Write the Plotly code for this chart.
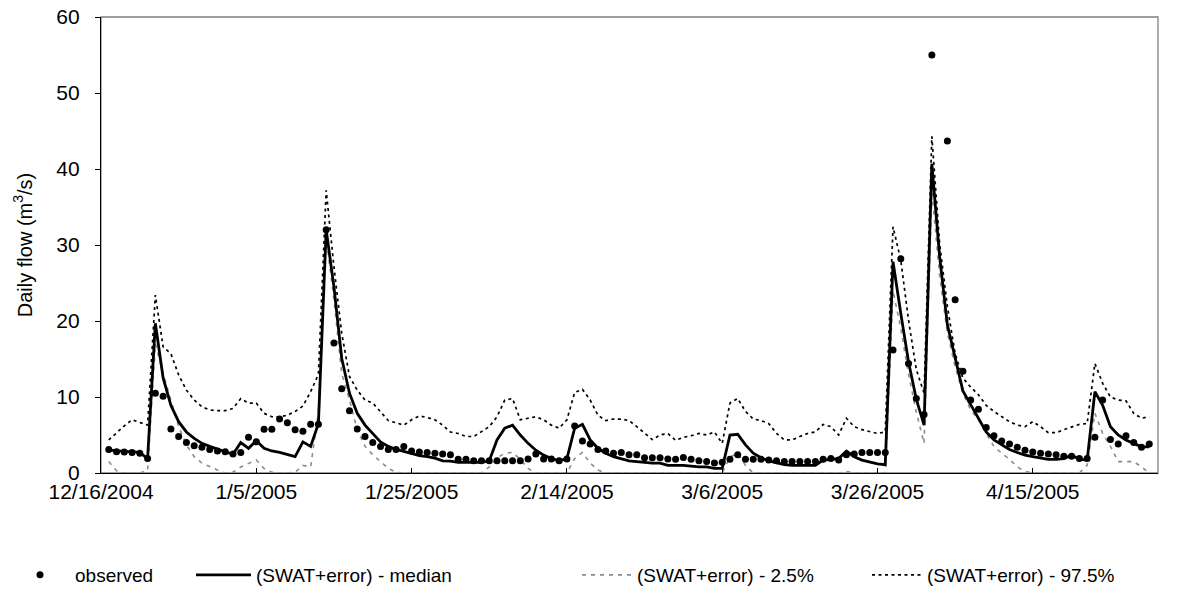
import pandas as pd
import plotly.graph_objects as go

# Daily series, 12/17/2004 .. 4/30/2005 (135 days)
dates = pd.date_range("2004-12-17", periods=135, freq="D")

observed = [
    3.1, 2.8, 2.75, 2.7, 2.6, 1.9, 10.5, 10.1, 5.8, 4.8,
    4.0, 3.6, 3.4, 3.1, 2.9, 2.8, 2.5, 2.7, 4.7, 4.1,
    5.75, 5.75, 7.1, 6.6, 5.7, 5.5, 6.4, 6.4, 32.0, 17.1,
    11.1, 8.2, 5.8, 4.8, 4.0, 3.5, 3.1, 3.1, 3.5, 2.9,
    2.75, 2.7, 2.6, 2.5, 2.4, 1.8, 1.8, 1.6, 1.6, 1.6,
    1.6, 1.6, 1.6, 1.6, 1.85, 2.5, 1.85, 1.85, 1.6, 1.85,
    6.2, 4.2, 3.8, 3.1, 2.9, 2.6, 2.7, 2.4, 2.4, 2.0,
    2.0, 2.0, 1.85, 1.8, 2.05, 1.8, 1.6, 1.5, 1.3, 1.4,
    1.8, 2.4, 1.8, 1.8, 1.8, 1.7, 1.6, 1.5, 1.5, 1.5,
    1.5, 1.5, 1.8, 1.9, 1.7, 2.4, 2.5, 2.7, 2.7, 2.7,
    2.7, 16.2, 28.2, 14.4, 9.8, 7.7, 55.0, None, 43.7, 22.8,
    13.4, 9.6, 8.4, 6.0, 4.9, 4.2, 3.8, 3.4, 3.0, 2.75,
    2.6, 2.5, 2.4, 2.2, 2.2, 1.9, 1.9, 4.7, 9.6, 4.4,
    3.8, 4.9, 4.0, 3.4, 3.8,
]

median = [
    3.0, 2.9, 2.85, 2.8, 2.7, 1.9, 19.7, 12.5, 8.9, 6.75,
    5.4, 4.55, 3.9, 3.5, 3.1, 2.8, 2.45, 4.0, 3.25, 4.25,
    3.25, 2.9, 2.7, 2.4, 2.15, 4.1, 3.5, 6.5, 32.0, 24.5,
    15.1, 10.5, 7.85, 6.3, 5.2, 4.1, 3.5, 3.1, 2.85, 2.55,
    2.3, 2.15, 1.95, 1.6, 1.55, 1.4, 1.4, 1.4, 1.4, 1.6,
    4.35, 5.9, 6.3, 5.0, 3.9, 3.0, 2.35, 1.9, 1.6, 1.9,
    5.9, 6.4, 4.35, 3.25, 2.6, 2.15, 1.9, 1.6, 1.5, 1.4,
    1.3, 1.3, 1.0, 1.0, 1.0, 0.9, 0.8, 0.8, 0.6, 0.6,
    5.0, 5.1, 3.7, 2.6, 2.0, 1.6, 1.35, 1.1, 1.0, 1.0,
    1.0, 1.0, 1.7, 1.8, 1.9, 2.9, 2.15, 1.7, 1.4, 1.2,
    1.1, 27.8, 21.0, 14.6, 9.7, 6.3, 40.7, 28.5, 19.5, 15.0,
    10.8, 9.0, 7.2, 5.4, 4.35, 3.7, 3.1, 2.7, 2.35, 2.15,
    1.95, 1.8, 1.8, 1.9, 2.35, 1.8, 1.7, 10.7, 8.9, 6.1,
    5.0, 4.35, 3.9, 3.45, 3.45,
]

lower_2_5 = [
    1.5, 0.3, 0.0, 0.0, 0.0, 0.3, 17.0, 13.1, 9.6, 6.1,
    3.7, 2.15, 1.3, 0.8, 0.4, 0.0, 0.1, 0.8, 1.3, 1.7,
    0.6, 0.1, 0.0, 0.0, 0.1, 1.0, 0.8, 8.0, 31.0, 22.8,
    13.1, 9.6, 5.7, 3.5, 2.4, 1.5, 0.6, 0.1, 0.0, 0.0,
    0.0, 0.0, 0.0, 0.0, 0.0, 0.0, 0.0, 0.0, 0.0, 0.8,
    2.0, 2.6, 2.7, 1.8, 0.6, 0.0, 0.0, 0.0, 0.0, 0.0,
    1.9, 2.7, 1.3, 0.4, 0.0, 0.0, 0.0, 0.0, 0.0, 0.0,
    0.0, 0.0, 0.0, 0.0, 0.0, 0.0, 0.0, 0.0, 0.0, 0.0,
    2.1, 2.6, 1.0, 0.0, 0.0, 0.0, 0.0, 0.0, 0.0, 0.0,
    0.0, 0.0, 0.0, 0.0, 0.0, 0.2, 0.0, 0.0, 0.0, 0.0,
    0.0, 24.0, 19.0, 13.0, 8.0, 3.9, 37.0, 26.0, 18.4, 14.0,
    10.5, 8.3, 7.0, 5.2, 3.5, 2.6, 1.8, 0.8, 0.2, 0.0,
    0.0, 0.0, 0.0, 0.0, 0.0, 0.0, 1.0, 7.85, 5.2, 3.5,
    1.5, 1.5, 1.5, 0.8, 0.0,
]

upper_97_5 = [
    4.35, 5.3, 6.2, 7.0, 6.6, 6.3, 23.4, 16.6, 15.7, 12.9,
    10.9, 9.6, 8.7, 8.3, 8.2, 8.2, 8.5, 9.8, 9.2, 9.2,
    7.85, 7.4, 7.4, 7.6, 8.1, 8.8, 10.7, 13.0, 37.2, 27.1,
    18.4, 12.7, 10.9, 9.6, 9.2, 8.1, 6.9, 6.6, 6.3, 7.0,
    7.5, 7.3, 7.0, 6.3, 5.4, 5.2, 4.8, 4.8, 5.4, 6.1,
    7.4, 9.6, 9.8, 7.0, 7.2, 7.4, 7.0, 6.3, 5.9, 7.0,
    10.6, 11.0, 9.6, 7.6, 6.9, 7.1, 7.1, 6.9, 6.1, 5.2,
    4.4, 5.0, 5.2, 4.3, 4.7, 4.9, 5.2, 5.0, 5.4, 3.9,
    9.2, 9.8, 8.1, 7.1, 6.9, 6.5, 5.2, 4.35, 4.35, 4.8,
    5.2, 5.4, 6.4, 6.1, 5.0, 7.2, 6.1, 5.7, 5.4, 5.2,
    5.4, 32.4, 28.0, 20.1, 13.6, 10.5, 44.3, 30.2, 21.9, 15.7,
    12.5, 11.3, 10.3, 8.9, 8.1, 7.4, 6.75, 6.3, 6.1, 6.75,
    6.1, 5.3, 5.3, 5.7, 6.1, 6.4, 6.5, 14.4, 11.8, 10.0,
    9.6, 9.5, 7.85, 7.2, 7.4,
]

tick_dates = ["2004-12-16", "2005-01-05", "2005-01-25", "2005-02-14",
              "2005-03-06", "2005-03-26", "2005-04-15"]
tick_labels = ["12/16/2004", "1/5/2005", "1/25/2005", "2/14/2005",
               "3/6/2005", "3/26/2005", "4/15/2005"]

FONT = "Liberation Sans, Arial, sans-serif"
W, H = 1196, 609

fig = go.Figure()

fig.add_trace(go.Scatter(
    x=dates, y=lower_2_5, mode="lines", name="(SWAT+error) - 2.5%",
    line=dict(color="#8c8c8c", width=1.6, dash="4px,5px"),
    legend="legend3",
))
fig.add_trace(go.Scatter(
    x=dates, y=upper_97_5, mode="lines", name="(SWAT+error) - 97.5%",
    line=dict(color="black", width=1.7, dash="3px,3.5px"),
    legend="legend4",
))
fig.add_trace(go.Scatter(
    x=dates, y=median, mode="lines", name="(SWAT+error) - median",
    line=dict(color="black", width=2.8),
    legend="legend2",
))
fig.add_trace(go.Scatter(
    x=dates, y=observed, mode="markers", name="observed",
    marker=dict(color="black", size=7),
    legend="legend",
))

# one legend box per entry so the entries can sit at uneven spacing
legend_common = dict(
    orientation="h", xref="container", yref="container",
    yanchor="middle", y=1 - 575 / H, xanchor="left",
    bgcolor="rgba(0,0,0,0)", borderwidth=0,
    font=dict(family=FONT, size=19, color="black"),
)

fig.update_layout(
    width=W, height=H, autosize=False,
    margin=dict(l=101, r=38, t=17, b=136),
    paper_bgcolor="white", plot_bgcolor="white",
    font=dict(family=FONT, size=21, color="black"),
    showlegend=True,
    legend=dict(**legend_common, x=5 / W, itemwidth=60),
    legend2=dict(**legend_common, x=191 / W, itemwidth=55),
    legend3=dict(**legend_common, x=577 / W, itemwidth=50),
    legend4=dict(**legend_common, x=867 / W, itemwidth=50),
    xaxis=dict(
        type="date", automargin=False,
        range=["2004-12-16", "2005-05-01 03:00"],
        tickmode="array", tickvals=tick_dates, ticktext=tick_labels,
        ticks="inside", ticklen=5, tickwidth=1, tickcolor="black",
        showline=True, linecolor="black", linewidth=1.3,
        showgrid=False, zeroline=False,
        tickfont=dict(family=FONT, size=21, color="black"),
    ),
    yaxis=dict(
        automargin=False,
        range=[0, 60], dtick=10, tick0=0,
        ticks="outside", ticklen=5, tickwidth=1, tickcolor="black",
        ticklabelstandoff=11,
        showline=True, linecolor="black", linewidth=1.3,
        showgrid=False, zeroline=False,
        tickfont=dict(family=FONT, size=21, color="black"),
        title=dict(text="Daily flow (m<sup>3</sup>/s)", standoff=18,
                   font=dict(family=FONT, size=20, color="black")),
    ),
    shapes=[dict(type="rect", xref="paper", yref="paper", x0=0, x1=1, y0=0, y1=1,
                 line=dict(color="#7f7f7f", width=1.3), layer="below")],
)

fig.write_html("out.html")
